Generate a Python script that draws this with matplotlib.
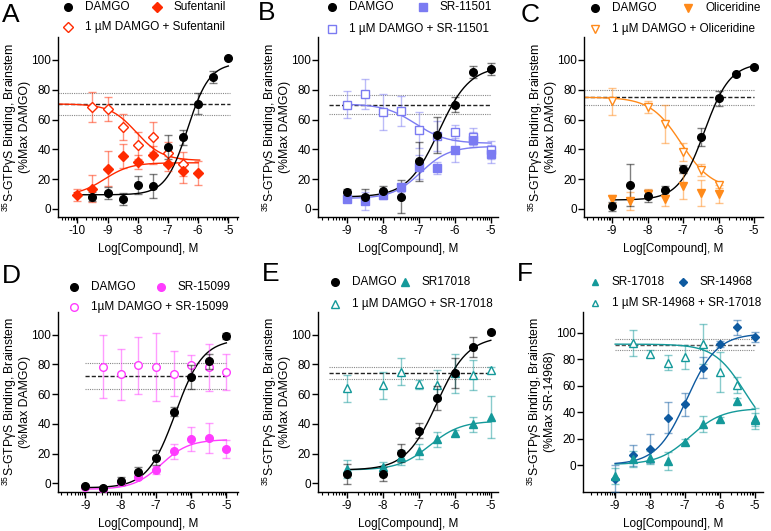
import numpy as np
import matplotlib
matplotlib.use('Agg')
import matplotlib.pyplot as plt
from matplotlib.ticker import FixedLocator

plt.rcParams['font.family'] = ['Liberation Sans', 'DejaVu Sans']
plt.rcParams['mathtext.fontset'] = 'custom'
plt.rcParams['mathtext.rm'] = 'Liberation Sans'
plt.rcParams['mathtext.it'] = 'Liberation Sans:italic'
plt.rcParams['axes.unicode_minus'] = False

W, H = 771, 531
FS = 8.5

# ---------------- colours ----------------
C_BLACK = '#000000'
C_SUF = '#FF2A00'
C_S11501 = '#7B7BF2'
C_OLI = '#FF8A1A'
C_S15099 = '#FF3CFF'
C_TEAL = '#14999A'
C_BLUE = '#0E5AA0'

# ---------------- data: panel A ----------------
A_damgo_x = [-9.5, -9, -8.5, -8, -7.5, -7, -6.5, -6, -5.5, -5]
A_damgo_y = [8.1, 10.7, 6.7, 16.3, 15.2, 41.6, 48.1, 70.5, 88.6, 101.6]
A_damgo_e = [3, 4, 4, 6, 8, 8, 5, 7, 4, 0]
A_suf_x = [-10, -9.5, -9, -8.5, -8, -7.5, -7, -6.5, -6]
A_suf_y = [9.6, 13.6, 27.1, 35.8, 31.5, 36.0, 30.4, 25.3, 24.4]
A_suf_e = [4, 9, 12, 8, 5, 6, 5, 8, 8]
A_mix_x = [-9.5, -9, -8.5, -8, -7.5, -7, -6.5]
A_mix_y = [68.2, 67.3, 55.0, 42.7, 48.1, 37.6, 30.4]
A_mix_e = [10, 8, 9, 9, 10, 7, 8]

# ---------------- data: panel B ----------------
B_x = [-9, -8.5, -8, -7.5, -7, -6.5, -6, -5.5, -5]
B_damgo_y = [11.2, 8.1, 12.3, 8.1, 32.0, 49.4, 70.0, 92.2, 94.0]
B_damgo_e = [2, 5, 3, 11, 13, 12, 5, 4, 4]
B_sr_y = [6.7, 5.6, 9.6, 14.5, 28.2, 27.5, 39.7, 46.4, 37.0]
B_sr_e = [2, 6, 3, 3, 8, 4, 8, 5, 6]
B_mix_y = [70.0, 77.4, 64.9, 66.0, 53.2, 49.0, 51.6, 48.6, 39.7]
B_mix_e = [9, 10, 12, 10, 12, 10, 5, 6, 6]

# ---------------- data: panel C ----------------
C_damgo_x = [-9, -8.5, -8, -7.5, -7, -6.5, -6, -5.5, -5]
C_damgo_y = [1.8, 16.3, 8.5, 12.5, 26.8, 48.3, 74.3, 90.4, 95.3]
C_damgo_e = [3, 14, 4, 3, 3, 6, 5, 1, 1]
C_oli_x = [-9, -8.5, -8, -7.5, -7, -6.5, -6]
C_oli_y = [6.7, 5.1, 10.3, 6.9, 15.7, 10.7, 10.3]
C_oli_e = [3, 6, 3, 5, 9, 9, 6]
C_mix_x = [-9, -8, -7.5, -7, -6.5, -6]
C_mix_y = [72.3, 68.5, 57.0, 38.0, 26.0, 16.3]
C_mix_e = [9, 4, 13, 6, 4, 2]

# ---------------- data: panel D ----------------
D_x = [-9, -8.5, -8, -7.5, -7, -6.5, -6, -5.5, -5]
D_damgo_y = [-1.8, -3.4, 1.6, 7.8, 17.3, 48.2, 71.7, 82.1, 99.3]
D_damgo_e = [1, 1, 3, 3, 5, 3, 8, 5, 2]
D_sr_y = [-2.2, -3.8, 0.7, 4.0, 9.0, 21.7, 29.8, 30.7, 22.9]
D_sr_e = [1, 1, 1, 1, 3, 5, 8, 10, 6]
D_mix_x = [-8.5, -8, -7.5, -7, -6.5, -6, -5.5, -5]
D_mix_y = [78.5, 73.3, 79.4, 78.5, 73.8, 79.4, 78.0, 75.1]
D_mix_e = [21, 17, 19, 23, 15, 7, 16, 12]

# ---------------- data: panel E ----------------
E_x = [-9, -8, -7.5, -7, -6.5, -6, -5.5, -5]
E_damgo_y = [6.3, 6.3, 20.2, 35.4, 57.2, 74.4, 91.7, 101.6]
E_damgo_e = [7, 5, 6, 5, 8, 10, 7, 1]
E_sr_y = [9.4, 11.2, 17.5, 21.7, 29.6, 33.6, 39.9, 44.8]
E_sr_e = [6, 3, 5, 5, 5, 2, 5, 14]
E_mix_y = [63.9, 66.1, 75.1, 66.8, 66.1, 74.0, 72.9, 76.2]
E_mix_e = [9, 9, 9, 3, 10, 13, 10, 2]

# ---------------- data: panel F ----------------
F_x = [-9, -8.5, -8, -7.5, -7, -6.5, -6, -5.5, -5]
F_sr17_y = [-8.3, 5.0, 5.8, 3.3, 17.6, 31.0, 34.8, 48.6, 34.5]
F_sr17_e = [6, 6, 5, 7, 2, 6, 2, 2, 5]
F_sr14_y = [-10.1, 7.6, 12.6, 36.0, 45.9, 73.8, 91.5, 104.1, 97.0]
F_sr14_e = [10, 8, 11, 12, 9, 8, 2, 6, 4]
F_mix_x = [-8.5, -8, -7.5, -7, -6.5, -6, -5.5, -5]
F_mix_y = [92.4, 84.4, 77.6, 81.9, 91.5, 70.5, 60.5, 35.3]
F_mix_e = [10, 3, 6, 9, 15, 15, 6, 8]

# fitted curve parameters: (left plateau, right plateau, logEC50/IC50, hill)
FIT_A_damgo = (9.5, 98, -6.35, 1.2)
FIT_A_suf = (9, 31, -9.1, 1.0)
FIT_A_mix = (70.5, 32.5, -8.05, 1.0)
FIT_B_damgo = (8, 96, -6.45, 1.0)
FIT_B_sr = (7, 42, -6.95, 1.1)
FIT_B_mix = (70.5, 44, -7.1, 1.0)
FIT_C_damgo = (6, 98, -6.4, 1.2)
FIT_C_mix = (75, 13, -7.05, 1.0)
FIT_D_damgo = (-3, 97, -6.45, 1.1)
FIT_D_sr = (-4, 29.5, -6.85, 1.1)
FIT_E_damgo = (9, 99, -6.5, 1.0)
FIT_E_sr = (9, 42, -6.7, 1.0)
FIT_F_sr17 = (0.5, 43, -6.85, 0.95)
FIT_F_sr14 = (0.5, 99.5, -6.95, 1.0)
FIT_F_mix = (91.5, 20, -5.3, 1.0)

# reference bands: mean, low, high
REF_A = (70.5, 63.1, 77.9)
REF_B = (70.0, 64.0, 76.5)
REF_C = (75.0, 70.0, 80.0)
REF_D = (72.2, 63.5, 80.7)
REF_E = (74.0, 70.5, 78.0)
REF_F = (91.2, 87.2, 95.5)


def curve(p, x):
    a, b, mid, h = p
    return a + (b - a) / (1.0 + 10 ** (h * (mid - x)))


fig = plt.figure(figsize=(W / 100, H / 100), dpi=100)


def make_ax(l, t, r, b):
    return fig.add_axes([l / W, 1 - b / H, (r - l) / W, (b - t) / H])


def style_ax(ax, xlim, ylim, xticks, ylabel2):
    ax.set_xlim(*xlim)
    ax.set_ylim(*ylim)
    for s in ['top', 'right']:
        ax.spines[s].set_visible(False)
    for s in ['left', 'bottom']:
        ax.spines[s].set_linewidth(1.0)
    ax.set_xticks(xticks)
    ax.set_xticklabels([str(v) for v in xticks])
    minors = []
    for d in range(int(np.floor(xlim[0])) - 1, int(np.ceil(xlim[1])) + 1):
        for k in range(2, 10):
            v = d + np.log10(k)
            if xlim[0] <= v <= xlim[1] and v not in xticks:
                minors.append(v)
    ax.xaxis.set_minor_locator(FixedLocator(minors))
    ax.set_yticks([0, 20, 40, 60, 80, 100])
    ax.tick_params(axis='both', which='major', length=4, width=1, labelsize=FS, pad=2)
    ax.tick_params(axis='y', which='major', pad=1)
    ax.tick_params(axis='x', which='minor', length=2, width=0.8)
    ax.set_xlabel('Log[Compound], M', fontsize=FS, labelpad=4)
    ax.set_ylabel('$^{35}$S-GTPγS Binding, Brainstem\n' + ylabel2, fontsize=8.8,
                  linespacing=1.0)
    ax.yaxis.label.set_va('center')
    width_px = ax.get_position().width * W
    ax.yaxis.set_label_coords(-42.5 / width_px, 0.5)


def series(ax, x, y, e, color, marker, filled, ms=5.5, z=3):
    fc = color if filled else 'white'
    ax.errorbar(x, y, yerr=e, fmt='none', ecolor=color, elinewidth=1.0,
                capsize=3, capthick=1.0, alpha=0.5, zorder=z - 1)
    ax.plot(x, y, linestyle='none', marker=marker, ms=ms, mfc=fc, mec=color,
            mew=1.0, zorder=z + 1)


def fit(ax, p, x0, x1, color):
    xs = np.linspace(x0, x1, 200)
    ax.plot(xs, curve(p, xs), color=color, lw=1.0, zorder=2)


def ref(ax, r, x0, x1, dash_color='#222222'):
    m, lo, hi = r
    ax.plot([x0, x1], [m, m], color=dash_color, lw=1.0, ls=(0, (3, 1.5)), zorder=1)
    ax.plot([x0, x1], [lo, lo], color='#888888', lw=0.8, ls=(0, (1, 1)), zorder=1)
    ax.plot([x0, x1], [hi, hi], color='#888888', lw=0.8, ls=(0, (1, 1)), zorder=1)


# ---------------- Panel A ----------------
axA = make_ax(58, 37, 238, 217)
style_ax(axA, (-10.64, -4.68), (-5.4, 115.4), [-10, -9, -8, -7, -6, -5], '(%Max DAMGO)')
ref(axA, REF_A, -10.64, -4.95)
fit(axA, FIT_A_mix, -10.64, -5.95, C_SUF)
fit(axA, FIT_A_suf, -10.1, -6.0, C_SUF)
fit(axA, FIT_A_damgo, -10.1, -5.0, C_BLACK)
series(axA, A_mix_x, A_mix_y, A_mix_e, C_SUF, 'D', False, ms=5, z=3)
series(axA, A_suf_x, A_suf_y, A_suf_e, C_SUF, 'D', True, ms=5.5, z=4)
series(axA, A_damgo_x, A_damgo_y, A_damgo_e, C_BLACK, 'o', True, z=5)

# ---------------- Panel B ----------------
axB = make_ax(318, 37, 498, 217)
style_ax(axB, (-9.81, -4.80), (-5.4, 115.4), [-9, -8, -7, -6, -5], '(%Max DAMGO)')
ref(axB, REF_B, -9.5, -5.0)
fit(axB, FIT_B_mix, -9, -5, C_S11501)
fit(axB, FIT_B_sr, -9, -5, C_S11501)
fit(axB, FIT_B_damgo, -9, -5, C_BLACK)
series(axB, B_x, B_mix_y, B_mix_e, C_S11501, 's', False, ms=5.5, z=3)
series(axB, B_x, B_sr_y, B_sr_e, C_S11501, 's', True, ms=5.5, z=4)
series(axB, B_x, B_damgo_y, B_damgo_e, C_BLACK, 'o', True, z=5)

# ---------------- Panel C ----------------
axC = make_ax(584, 37, 763, 217)
style_ax(axC, (-9.79, -4.75), (-5.4, 115.4), [-9, -8, -7, -6, -5], '(%Max DAMGO)')
ref(axC, REF_C, -9.79, -5.0)
fit(axC, FIT_C_mix, -9.79, -6.0, C_OLI)
fit(axC, FIT_C_damgo, -9, -5, C_BLACK)
series(axC, C_mix_x, C_mix_y, C_mix_e, C_OLI, 'v', False, ms=6, z=3)
series(axC, C_oli_x, C_oli_y, C_oli_e, C_OLI, 'v', True, ms=6, z=4)
series(axC, C_damgo_x, C_damgo_y, C_damgo_e, C_BLACK, 'o', True, z=5)

# ---------------- Panel D ----------------
axD = make_ax(58, 311.7, 238, 491.7)
style_ax(axD, (-9.78, -4.67), (-5.6, 115.5), [-9, -8, -7, -6, -5], '(%Max DAMGO)')
ref(axD, REF_D, -9.0, -5.0)
fit(axD, FIT_D_sr, -9, -5, C_S15099)
fit(axD, FIT_D_damgo, -9, -5, C_BLACK)
series(axD, D_mix_x, D_mix_y, D_mix_e, C_S15099, 'o', False, ms=5.5, z=3)
series(axD, D_x, D_sr_y, D_sr_e, C_S15099, 'o', True, ms=5.5, z=4)
series(axD, D_x, D_damgo_y, D_damgo_e, C_BLACK, 'o', True, z=5)

# ---------------- Panel E ----------------
axE = make_ax(318, 311.7, 498, 491.7)
style_ax(axE, (-9.81, -4.80), (-5.6, 115.5), [-9, -8, -7, -6, -5], '(%Max DAMGO)')
ref(axE, REF_E, -9.5, -5.0)
fit(axE, FIT_E_sr, -9, -5, C_TEAL)
fit(axE, FIT_E_damgo, -9, -5, C_BLACK)
series(axE, E_x, E_mix_y, E_mix_e, C_TEAL, '^', False, ms=6, z=3)
series(axE, E_x, E_sr_y, E_sr_e, C_TEAL, '^', True, ms=6, z=4)
series(axE, E_x, E_damgo_y, E_damgo_e, C_BLACK, 'o', True, z=5)

# ---------------- Panel F ----------------
axF = make_ax(583, 311.7, 763, 491.7)
style_ax(axF, (-9.92, -4.77), (-20, 116), [-9, -8, -7, -6, -5], '(%Max SR-14968)')
ref(axF, REF_F, -9.0, -5.0, dash_color='#555555')
fit(axF, FIT_F_mix, -9, -5, C_TEAL)
fit(axF, FIT_F_sr17, -9, -5, C_TEAL)
fit(axF, FIT_F_sr14, -9, -5, C_BLUE)
series(axF, F_mix_x, F_mix_y, F_mix_e, C_TEAL, '^', False, ms=5.5, z=3)
series(axF, F_x, F_sr14_y, F_sr14_e, C_BLUE, 'D', True, ms=4.5, z=4)
series(axF, F_x, F_sr17_y, F_sr17_e, C_TEAL, '^', True, ms=5.5, z=5)

# ---------------- overlay: panel letters & legends ----------------
ov = fig.add_axes([0, 0, 1, 1])
ov.set_xlim(0, W)
ov.set_ylim(H, 0)
ov.axis('off')

for lab, px, py in [('A', 2, 3), ('B', 258, 1), ('C', 521, 3),
                    ('D', 2, 264), ('E', 262, 262), ('F', 517, 262)]:
    ov.text(px, py, lab, fontsize=19, va='top', ha='left')


def leg(px, py, marker, color, filled, text, ms=5.5):
    ov.plot([px], [py], linestyle='none', marker=marker, ms=ms,
            mfc=color if filled else 'white', mec=color, mew=1.0)
    ov.text(px + 17, py, text, fontsize=FS, va='center', ha='left')


leg(68, 7, 'o', C_BLACK, True, 'DAMGO')
leg(157, 7, 'D', C_SUF, True, 'Sufentanil', ms=5)
leg(68, 27, 'D', C_SUF, False, '1 µM DAMGO + Sufentanil', ms=5)

leg(332, 7, 'o', C_BLACK, True, 'DAMGO')
leg(423, 7, 's', C_S11501, True, 'SR-11501')
leg(332, 29, 's', C_S11501, False, '1 µM DAMGO + SR-11501')

leg(595, 8, 'o', C_BLACK, True, 'DAMGO')
leg(688, 8, 'v', C_OLI, True, 'Oliceridine', ms=6)
leg(595, 29, 'v', C_OLI, False, '1 µM DAMGO + Oliceridine', ms=6)

leg(74, 287, 'o', C_BLACK, True, 'DAMGO')
leg(161, 287, 'o', C_S15099, True, 'SR-15099')
leg(74, 307, 'o', C_S15099, False, '1µM DAMGO + SR-15099')

leg(335, 282, 'o', C_BLACK, True, 'DAMGO')
leg(405, 282, '^', C_TEAL, True, 'SR17018', ms=6)
leg(335, 304, '^', C_TEAL, False, '1 µM DAMGO + SR-17018', ms=6)

leg(595, 282, '^', C_TEAL, True, 'SR-17018', ms=4.5)
leg(683, 282, 'D', C_BLUE, True, 'SR-14968', ms=4)
leg(595, 303, '^', C_TEAL, False, '1 µM SR-14968 + SR-17018', ms=5)

fig.savefig('out.png', dpi=100)
